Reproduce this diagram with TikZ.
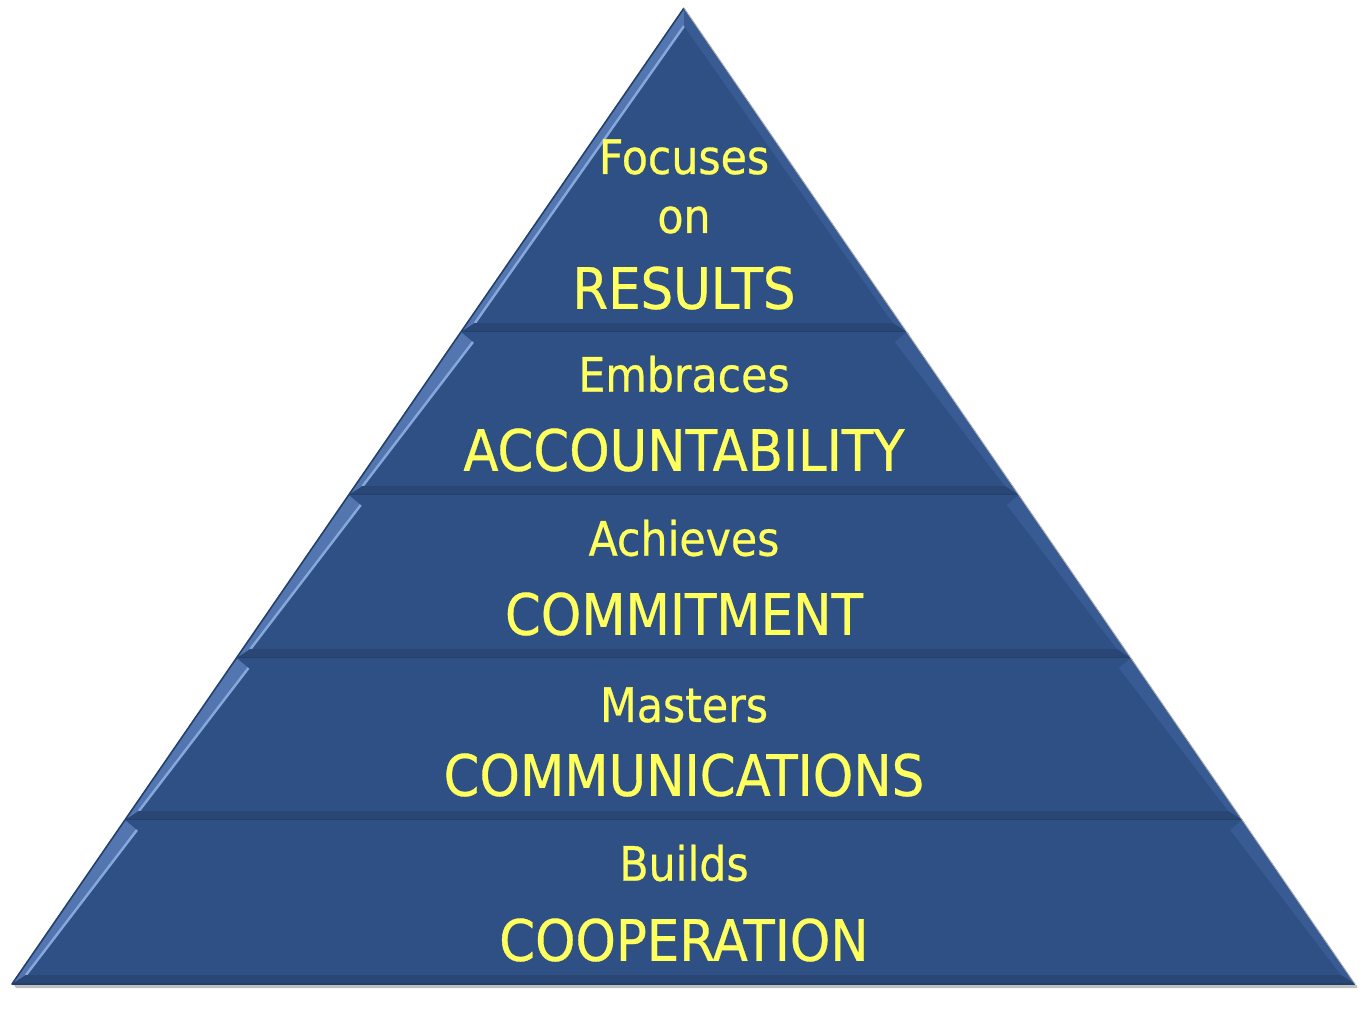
\documentclass[tikz,border=0pt]{standalone}
\usepackage{fontspec}
\setmainfont{DejaVu Sans Condensed}[FakeBold=0.6]
\definecolor{pyrblue}{HTML}{2E5085}
\definecolor{bevlight}{HTML}{5476B0}
\definecolor{bevshine}{HTML}{86A8DD}
\definecolor{bevright}{HTML}{385B94}
\definecolor{bevdark}{HTML}{22406C}
\definecolor{textyellow}{HTML}{FFFF5E}
\tikzset{
  small/.style={text=textyellow,font=\fontsize{27}{28}\selectfont,inner sep=0pt},
  big/.style={text=textyellow,font=\fontsize{32.5}{34}\selectfont,inner sep=0pt}
}

\begin{document}
\begin{tikzpicture}[x=0.02cm,y=-0.02cm,line join=round]
  \useasboundingbox (0,0) rectangle (1364,1022);
  % schichten der pyramide (oben/unten in pixel)
  \foreach \yt/\yb in {8/332,332/495,495/658,658/820,820/984}{
    \pgfmathsetmacro{\xlt}{684-0.6885*(\yt-8)}
    \pgfmathsetmacro{\xrt}{684+0.6875*(\yt-8)}
    \pgfmathsetmacro{\xlb}{684-0.6885*(\yb-8)}
    \pgfmathsetmacro{\xrb}{684+0.6875*(\yb-8)}
    % innere ecken der fase (spitze gesondert)
    \pgfmathsetmacro{\ilt}{\yt<10 ? 684 : \xlt+12}
    \pgfmathsetmacro{\irt}{\yt<10 ? 684 : \xrt-12}
    \pgfmathsetmacro{\iyt}{\yt<10 ? \yt+18 : \yt+10}
    % schatten
    \fill[black!25] (\xlb+2,\yb+1) -- (\xrb+2,\yb+1) -- (\xrb+2,\yb+4) -- (\xlb+4,\yb+4) -- cycle;
    % grundflaeche
    \fill[pyrblue] (\xlt,\yt) -- (\xrt,\yt) -- (\xrb,\yb) -- (\xlb,\yb) -- cycle;
    % fase links, rechts, unten
    \fill[bevlight] (\xlt,\yt) -- (\ilt,\iyt) -- (\xlb+14,\yb-9) -- (\xlb,\yb) -- cycle;
    \draw[bevshine,line width=1.4pt] (\ilt,\iyt) -- (\xlb+14,\yb-9);
    \fill[bevright] (\xrt,\yt) -- (\irt,\iyt) -- (\xrb-14,\yb-9) -- (\xrb,\yb) -- cycle;
    \fill[pyrblue!88!black] (\xlb,\yb) -- (\xlb+14,\yb-9) -- (\xrb-14,\yb-9) -- (\xrb,\yb) -- cycle;
    % kanten
    \draw[bevdark,line width=0.9pt] (\xlt,\yt) -- (\xlb,\yb) -- (\xrb,\yb);
    \draw[black!30,line width=0.5pt] (\xrt,\yt) -- (\xrb,\yb);
  }
  % texte
  \node[small] (focuses) at (684,157) {Focuses};
  \node[small] (on) at (684,220) {on};
  \node[big] (results) at (684,288) {RESULTS};
  \node[small] (embraces) at (684,374) {Embraces};
  \node[big] (accountability) at (684,450) {ACCOUNTABILITY};
  \node[small] (achieves) at (684,538) {Achieves};
  \node[big] (commitment) at (684,614) {COMMITMENT};
  \node[small] (masters) at (684,705) {Masters};
  \node[big] (communications) at (684,775) {COMMUNICATIONS};
  \node[small] (builds) at (684,863) {Builds};
  \node[big] (cooperation) at (684,940) {COOPERATION};
\end{tikzpicture}
\end{document}
